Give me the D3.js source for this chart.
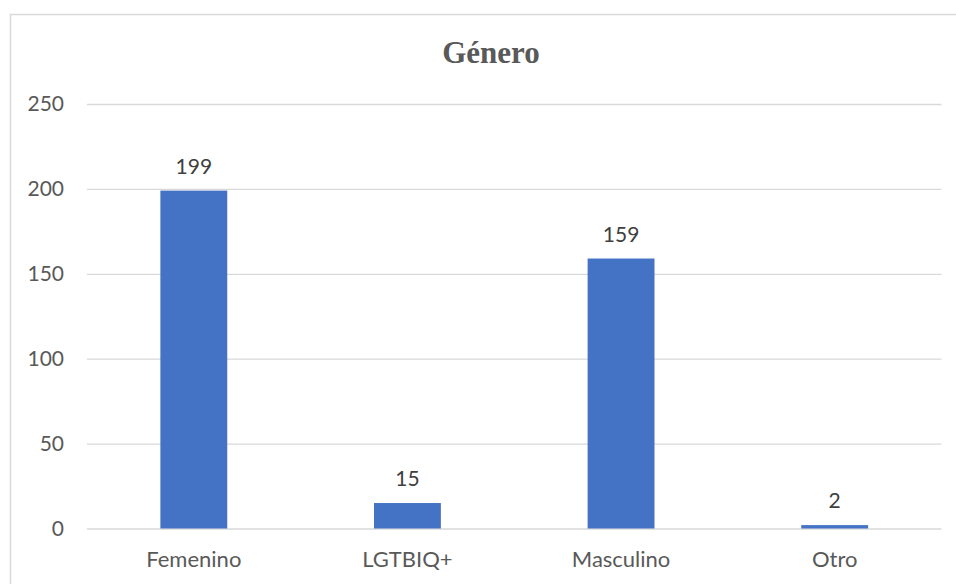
<!DOCTYPE html>
<html><head><meta charset="utf-8">
<script src="https://cdn.jsdelivr.net/npm/d3@7"></script>
<style>body{margin:0;background:#fff}svg{display:block}</style>
</head><body>
<svg id="c" width="956" height="584"></svg>
<script>
const title = "Género";
const categories = ["Femenino", "LGTBIQ+", "Masculino", "Otro"];
const values = [199, 15, 159, 2];
const yTicks = [0, 50, 100, 150, 200, 250];

const svg = d3.select("#c");
const W = 956, H = 584;
const m = {left: 87, right: 956 - 941.5, top: 104, bottom: H - 528.5};

svg.append("rect").attr("x", 10.5).attr("y", 14.5).attr("width", 1000).attr("height", 700)
  .attr("fill", "#fff").attr("stroke", "#d9d9d9").attr("stroke-width", 1.5);

const x = d3.scaleBand().domain(categories).range([m.left, W - m.right]).padding(0);
const y = d3.scaleLinear().domain([0, 250]).range([H - m.bottom, m.top]);

svg.append("text").attr("x", 491).attr("y", 63).attr("text-anchor", "middle")
  .attr("font-family", "'Liberation Serif', 'Times New Roman', serif").attr("font-weight", "bold")
  .attr("font-size", 31).attr("fill", "#595959").text(title);

const yAxis = d3.axisLeft(y).tickValues(yTicks).tickSize(-(W - m.right - m.left)).tickPadding(23);
const g = svg.append("g").attr("transform", `translate(${m.left},0)`).call(yAxis);
g.select(".domain").remove();
g.selectAll(".tick line").attr("stroke", "#d9d9d9").attr("stroke-width", 1.3);
g.selectAll(".tick text").attr("font-family", "Lato, sans-serif").attr("font-size", 21).attr("fill", "#595959");

const bw = x.bandwidth() * 0.313;
svg.append("g").selectAll("rect").data(values).join("rect")
  .attr("x", (d, i) => x(categories[i]) + x.bandwidth() / 2 - bw / 2)
  .attr("y", d => y(d))
  .attr("width", bw)
  .attr("height", d => y(0) - y(d))
  .attr("fill", "#4472C4");

svg.append("g").selectAll("text").data(values).join("text")
  .attr("x", (d, i) => x(categories[i]) + x.bandwidth() / 2)
  .attr("y", d => y(d) - 17)
  .attr("text-anchor", "middle")
  .attr("font-family", "Lato, sans-serif").attr("font-size", 21).attr("fill", "#404040")
  .text(d => d);

svg.append("g").selectAll("text").data(categories).join("text")
  .attr("x", d => x(d) + x.bandwidth() / 2)
  .attr("y", 567)
  .attr("text-anchor", "middle")
  .attr("font-family", "Lato, sans-serif").attr("font-size", 22).attr("fill", "#595959")
  .text(d => d);
</script>
</body></html>
